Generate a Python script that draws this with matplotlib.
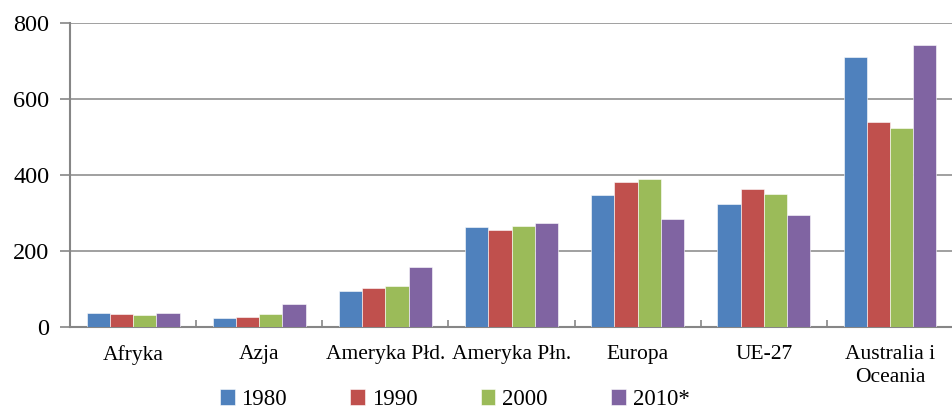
import matplotlib
matplotlib.use("Agg")
import matplotlib.pyplot as plt
import numpy as np

categories = ["Afryka", "Azja", "Ameryka Płd.", "Ameryka Płn.", "Europa", "UE-27", "Australia i\nOceania"]
series_names = ["1980", "1990", "2000", "2010*"]
v1980 = [38, 23, 95, 263, 347, 324, 710]
v1990 = [35, 26, 102, 256, 382, 364, 539]
v2000 = [32, 34, 107, 265, 389, 349, 525]
v2010 = [38, 60, 158, 275, 284, 296, 742]
colors = ["#4F81BD", "#C0504D", "#9BBB59", "#8064A2"]
yticks = [0, 200, 400, 600, 800]

plt.rcParams['font.family'] = ['Liberation Serif', 'DejaVu Serif']

fig = plt.figure(figsize=(9.53, 4.12), dpi=100)
ax = fig.add_axes([0.0735, 0.206, 0.9265, 0.738])

x = np.arange(len(categories))
w = 0.184
data = [v1980, v1990, v2000, v2010]
for i, (vals, c, name) in enumerate(zip(data, colors, series_names)):
    ax.bar(x + (i - 1.5) * w, vals, width=w, color=c, label=name, zorder=3,
           edgecolor='white', linewidth=0.4)

ax.set_xlim(-0.5, len(categories) - 0.5)
ax.set_ylim(0, 800)
ax.set_yticks(yticks)
ax.set_yticklabels([str(t) for t in yticks], fontsize=17.5)
ax.set_xticks(x)
ax.set_xticklabels(categories, fontsize=15.5, linespacing=1.25)
ax.tick_params(axis='x', which='major', length=0, pad=13)
ax.set_xticks(np.arange(0.5, len(categories) - 0.5, 1.0), minor=True)
ax.tick_params(axis='x', which='minor', length=5, width=1.2, color='#868686', direction='in')
ax.tick_params(axis='y', length=7, width=1.2, color='#868686', direction='out', pad=8)

ax.grid(axis='y', color='#a0a0a0', linewidth=1.4, zorder=0)
ax.set_axisbelow(True)
for s in ['top', 'right']:
    ax.spines[s].set_visible(False)
ax.spines['left'].set_color('#868686')
ax.spines['bottom'].set_color('#868686')
ax.spines['left'].set_linewidth(1.5)
ax.spines['bottom'].set_linewidth(1.5)

leg = fig.legend(loc='lower center', bbox_to_anchor=(0.477, -0.045), ncol=4, frameon=False,
                 fontsize=16.5, handlelength=0.65, handleheight=0.65, handletextpad=0.3,
                 columnspacing=2.75)

fig.savefig("out.png", dpi=100)
